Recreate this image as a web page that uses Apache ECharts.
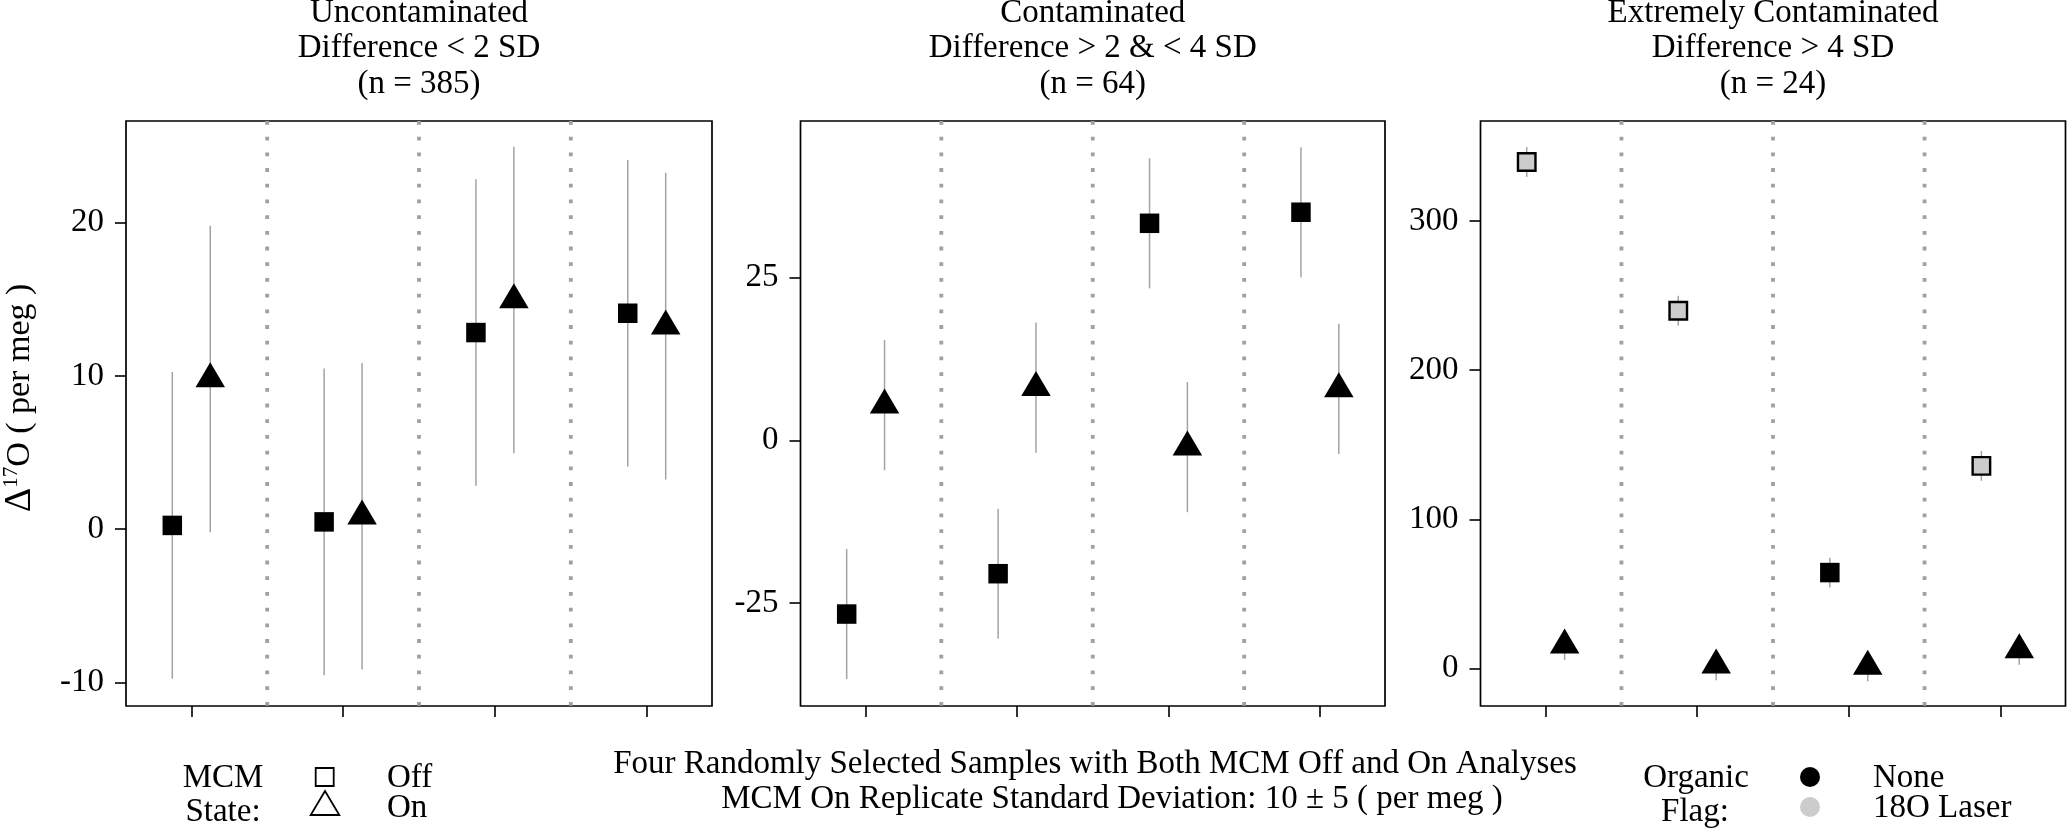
<!DOCTYPE html>
<html><head><meta charset="utf-8">
<script src="https://cdn.jsdelivr.net/npm/echarts@6/dist/echarts.min.js"></script>
<style>html,body{margin:0;padding:0;background:#fff}#c{width:2067px;height:830px}</style>
</head><body><div id="c"></div>
<script>
// ---------- data ----------
const panelTitles = [
  ['Uncontaminated', 'Difference < 2 SD', '(n = 385)'],
  ['Contaminated', 'Difference > 2 & < 4 SD', '(n = 64)'],
  ['Extremely Contaminated', 'Difference > 4 SD', '(n = 24)']
];
const samples = [1, 2, 3, 4];
const separators = [1.5, 2.5, 3.5];
const yTicks1 = [-10, 0, 10, 20];
const yTicks2 = [-25, 0, 25];
const yTicks3 = [0, 100, 200, 300];

const offMean1 = [0.25, 0.48, 12.83, 14.09];
const offSD1   = [10.0, 10.0, 10.0, 10.0];
const onMean1  = [9.8, 0.85, 14.95, 13.25];
const onSD1    = [10.0, 10.0, 10.0, 10.0];
const offFlag1 = ['None', 'None', 'None', 'None'];

const offMean2 = [-26.7, -20.5, 33.35, 35.05];
const offSD2   = [10.0, 10.0, 10.0, 10.0];
const onMean2  = [5.4, 8.1, -1.05, 7.9];
const onSD2    = [10.0, 10.0, 10.0, 10.0];
const offFlag2 = ['None', 'None', 'None', 'None'];

const offMean3 = [339.5, 239.8, 64.3, 135.8];
const offSD3   = [10.0, 10.0, 10.0, 10.0];
const onMean3  = [15.7, 2.2, 1.4, 12.5];
const onSD3    = [10.0, 10.0, 10.0, 10.0];
const offFlag3 = ['18O Laser', '18O Laser', 'None', '18O Laser'];

const legendMCM = ['Off', 'On'];
const legendFlag = ['None', '18O Laser'];
const xTitleLines = [
  'Four Randomly Selected Samples with Both MCM Off and On Analyses',
  'MCM On Replicate Standard Deviation: 10 \u00b1 5 ( per meg )'
];

// ---------- layout / style ----------
const FONT = '"Liberation Serif", "Times New Roman", serif';
const FS = 33;
const dodge = 0.125;
const flagFill = { 'None': '#000000', '18O Laser': '#cccccc' };
const panels = [
  { left: 126, width: 586, yMin: -11.53, yMax: 26.63, ticks: yTicks1,
    off: offMean1, offSD: offSD1, on: onMean1, onSD: onSD1, flag: offFlag1 },
  { left: 800.5, width: 584.5, yMin: -40.83, yMax: 49.07, ticks: yTicks2,
    off: offMean2, offSD: offSD2, on: onMean2, onSD: onSD2, flag: offFlag2 },
  { left: 1480.5, width: 585, yMin: -25.13, yMax: 366.96, ticks: yTicks3,
    off: offMean3, offSD: offSD3, on: onMean3, onSD: onSD3, flag: offFlag3 }
];
const TOP = 121, H = 585;

const grid = [], xAxis = [], yAxis = [], series = [];
panels.forEach((p, i) => {
  grid.push({ left: p.left, top: TOP, width: p.width, height: H, show: true,
    borderColor: '#000', borderWidth: 1.7, backgroundColor: 'transparent' });
  xAxis.push({ type: 'value', gridIndex: i, min: 0.57, max: 4.43, position: 'bottom',
    axisLine: { show: false, onZero: false }, splitLine: { show: false },
    axisLabel: { show: false, customValues: samples },
    axisTick: { show: true, length: 11, customValues: samples, lineStyle: { color: '#000', width: 1.6 } } });
  yAxis.push({ type: 'value', gridIndex: i, min: p.yMin, max: p.yMax, position: 'left',
    axisLine: { show: false, onZero: false }, splitLine: { show: false },
    axisLabel: { show: true, customValues: p.ticks, margin: 22, color: '#000',
      fontFamily: FONT, fontSize: FS },
    axisTick: { show: true, length: 11, customValues: p.ticks, lineStyle: { color: '#000', width: 1.6 } } });

  // dotted separators
  series.push({ type: 'custom', xAxisIndex: i, yAxisIndex: i, silent: true, z: 1,
    data: separators.map(s => [s, 0]), encode: { x: 0, y: 1 },
    renderItem: (params, api) => {
      const cs = params.coordSys;
      const px = api.coord([api.value(0), 0])[0];
      return { type: 'line', shape: { x1: px, y1: cs.y, x2: px, y2: cs.y + cs.height },
        style: { stroke: '#a0a0a0', lineWidth: 3.8, lineDash: [3.8, 11.9], lineCap: 'butt' } };
    } });

  // error bars
  const errData = [];
  samples.forEach((s, k) => {
    errData.push([s - dodge, p.off[k] - p.offSD[k], p.off[k] + p.offSD[k]]);
    errData.push([s + dodge, p.on[k] - p.onSD[k], p.on[k] + p.onSD[k]]);
  });
  series.push({ type: 'custom', xAxisIndex: i, yAxisIndex: i, silent: true, z: 2,
    data: errData, encode: { x: 0, y: [1, 2] },
    renderItem: (params, api) => {
      const a = api.coord([api.value(0), api.value(1)]);
      const b = api.coord([api.value(0), api.value(2)]);
      return { type: 'line', shape: { x1: a[0], y1: a[1], x2: b[0], y2: b[1] },
        style: { stroke: '#a3a3a3', lineWidth: 1.5 } };
    } });

  // MCM off squares
  series.push({ type: 'scatter', xAxisIndex: i, yAxisIndex: i, silent: true, z: 3,
    symbol: 'rect',
    data: samples.map((s, k) => {
      const f = p.flag[k];
      return f === 'None'
        ? { value: [s - dodge, p.off[k]], symbolSize: 19.5, itemStyle: { color: flagFill[f], borderWidth: 0, opacity: 1 } }
        : { value: [s - dodge, p.off[k]], symbolSize: 17.5, itemStyle: { color: flagFill[f], borderColor: '#000', borderWidth: 2.4, opacity: 1 } };
    }) });

  // MCM on triangles
  series.push({ type: 'scatter', xAxisIndex: i, yAxisIndex: i, silent: true, z: 3,
    symbol: 'triangle', symbolSize: [29.5, 25], symbolOffset: [0, -4.2],
    itemStyle: { color: '#000', opacity: 1 },
    data: samples.map((s, k) => [s + dodge, p.on[k]]) });
});

// ---------- text / legend graphics ----------
const graphic = [];
function txt(text, x, baseline, align) {
  graphic.push({ type: 'text', silent: true, x: x, y: baseline - 11,
    style: { text: text, font: FS + 'px ' + FONT, fill: '#000',
      textAlign: align, textVerticalAlign: 'middle', align: align, verticalAlign: 'middle' } });
}
panels.forEach((p, i) => {
  const cx = p.left + p.width / 2;
  txt(panelTitles[i][0], cx, 24, 'center');
  txt(panelTitles[i][1], cx, 59.5, 'center');
  txt(panelTitles[i][2], cx, 95, 'center');
});
// y axis title (rotated)
graphic.push({ type: 'text', silent: true, x: 20.5, y: 398, rotation: Math.PI / 2,
  style: { text: '{d|\u0394}{s|17}{n|O ( per meg )}', fill: '#000',
    textAlign: 'center', textVerticalAlign: 'middle', align: 'center', verticalAlign: 'middle',
    rich: {
      d: { fontFamily: FONT, fontSize: 38, lineHeight: 40, verticalAlign: 'middle' },
      s: { fontFamily: FONT, fontSize: 21, lineHeight: 30, verticalAlign: 'top' },
      n: { fontFamily: FONT, fontSize: 34, lineHeight: 40, verticalAlign: 'middle' }
    } } });
// bottom centre text
txt(xTitleLines[0], 1095, 775, 'center');
txt(xTitleLines[1], 1112, 810, 'center');
// MCM legend
txt('MCM', 223, 789, 'center');
txt('State:', 223, 823, 'center');
graphic.push({ type: 'rect', silent: true, shape: { x: 315.7, y: 768, width: 18, height: 18 },
  style: { fill: 'none', stroke: '#000', lineWidth: 1.8 } });
graphic.push({ type: 'polygon', silent: true, shape: { points: [[325, 791], [339.3, 815], [310.7, 815]] },
  style: { fill: 'none', stroke: '#000', lineWidth: 1.8 } });
txt(legendMCM[0], 387, 789, 'left');
txt(legendMCM[1], 387, 819, 'left');
// Organic flag legend
txt('Organic', 1696, 789, 'center');
txt('Flag:', 1695, 823, 'center');
graphic.push({ type: 'circle', silent: true, shape: { cx: 1810, cy: 777, r: 10 }, style: { fill: flagFill['None'] } });
graphic.push({ type: 'circle', silent: true, shape: { cx: 1810, cy: 807, r: 10 }, style: { fill: flagFill['18O Laser'] } });
txt(legendFlag[0], 1873, 789, 'left');
txt(legendFlag[1], 1873, 819, 'left');

const chart = echarts.init(document.getElementById('c'), null, { renderer: 'canvas' });
chart.setOption({ animation: false, backgroundColor: '#ffffff', grid, xAxis, yAxis, series, graphic });
</script></body></html>
